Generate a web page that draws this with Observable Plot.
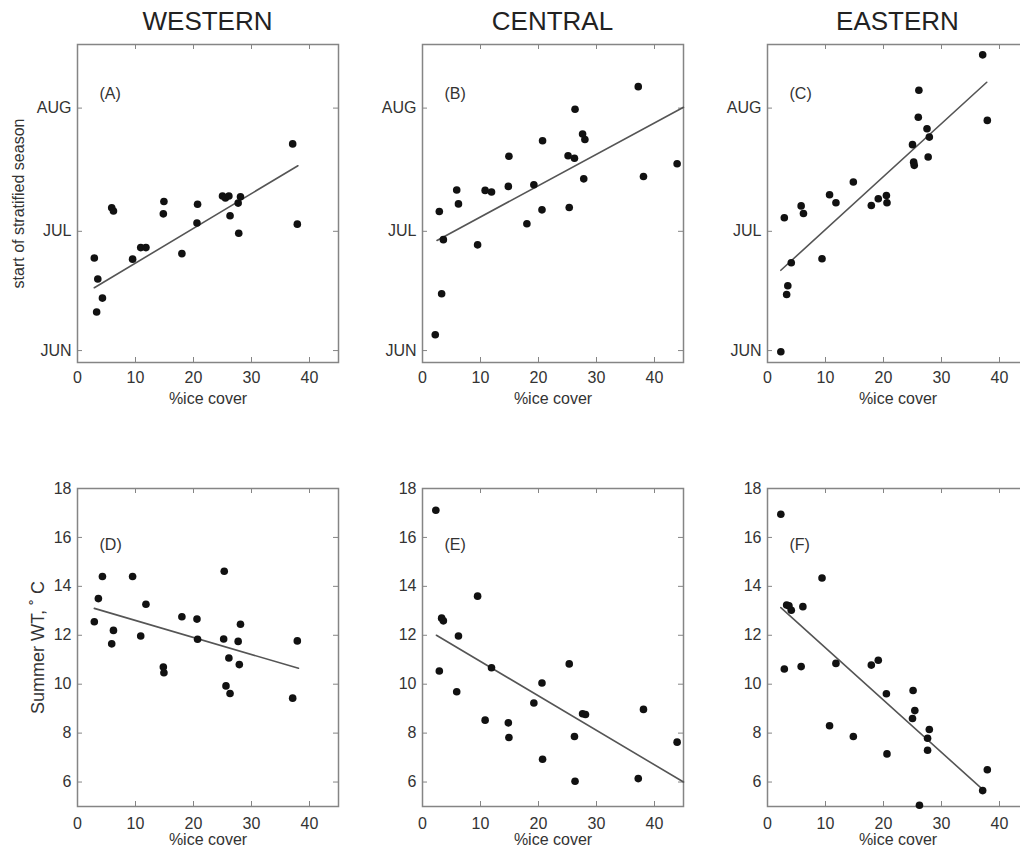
<!DOCTYPE html>
<html>
<head>
<meta charset="utf-8">
<script src="https://cdn.jsdelivr.net/npm/d3@7"></script>
<script src="https://cdn.jsdelivr.net/npm/@observablehq/plot@0.6"></script>
<style>
  html, body { margin: 0; padding: 0; background: #fff; }
  #fig { position: relative; width: 1020px; height: 850px; overflow: hidden; background: #fff;
         font-family: "Liberation Sans", Arial, sans-serif; }
  .panel { position: absolute; width: 345px; }
  .panel svg { max-width: none !important; }
  .title { position: absolute; top: 8px; width: 300px; text-align: center; font-size: 26px;
           line-height: 26px; color: #222; }
</style>
</head>
<body>
<div id="fig"></div>
<script>
// ---------- data ----------
const regions = ["WESTERN", "CENTRAL", "EASTERN"];
const topLetters = ["(A)", "(B)", "(C)"];
const bottomLetters = ["(D)", "(E)", "(F)"];

const xTicks = [0, 10, 20, 30, 40];
// start of stratified season: days after 1 June
const monthTicks = [0, 30, 61];
const monthLabels = ["JUN", "JUL", "AUG"];
const tempTicks = [6, 8, 10, 12, 14, 16, 18];

const xA = [2.9,3.5,4.3,3.3,5.9,6.2,9.5,10.9,11.8,14.9,14.8,18.0,20.7,20.6,25.0,25.5,26.1,26.3,27.7,28.1,27.8,37.1,37.9];
const yA = [23.3,18.0,13.2,9.7,35.9,35.1,23.0,25.9,25.9,37.5,34.4,24.4,36.8,32.1,38.9,38.4,38.9,33.9,37.1,38.7,29.5,52.0,31.8];

const xB = [2.2,3.3,2.9,3.6,5.9,6.2,9.5,10.8,11.9,14.8,14.9,18.0,19.2,20.7,20.6,25.1,25.3,26.2,26.3,27.6,28.0,27.8,37.2,38.1,43.9];
const yB = [4.0,14.3,35.0,27.9,40.4,36.9,26.6,40.3,39.9,41.3,48.9,31.9,41.7,52.8,35.4,49.0,36.0,48.4,60.7,54.5,53.1,43.2,66.4,43.8,47.0];

const xC = [2.3,2.9,3.5,3.3,4.1,5.8,6.2,9.4,10.7,11.8,14.8,17.9,19.1,20.5,20.6,25.0,25.2,25.3,26.1,26.0,27.5,27.9,27.7,37.1,37.9];
const yC = [-0.3,33.4,16.3,14.1,22.1,36.4,34.5,23.1,39.2,37.2,42.4,36.5,38.2,39.0,37.2,51.8,47.4,46.6,65.5,58.7,55.8,53.7,48.7,74.4,57.9];

const xD = [2.9,3.6,4.3,6.2,5.9,9.5,10.9,11.8,18.0,20.6,20.7,14.8,14.9,25.2,25.3,25.6,26.1,26.3,27.7,27.9,28.1,37.1,37.9];
const yD = [12.55,13.5,14.4,12.2,11.65,14.4,11.97,13.27,12.76,12.66,11.84,10.7,10.47,11.85,14.62,9.93,11.07,9.62,11.75,10.8,12.45,9.43,11.77];

const xE = [2.3,3.3,3.6,2.9,6.2,5.9,9.5,10.8,11.9,14.8,14.9,19.2,20.6,20.7,25.3,26.2,26.3,27.6,28.1,37.2,38.1,43.9];
const yE = [17.11,12.7,12.59,10.54,11.97,9.69,13.6,8.53,10.67,8.42,7.82,9.23,10.05,6.93,10.83,7.86,6.03,8.79,8.76,6.14,8.97,7.63];

const xF = [2.3,3.3,3.7,4.1,6.1,2.9,5.8,9.4,10.7,11.8,14.8,17.9,19.1,20.5,20.6,25.1,25.4,25.0,27.6,27.9,27.6,26.2,37.1,37.9];
const yF = [16.95,13.24,13.2,13.02,13.17,10.62,10.72,14.34,8.3,10.85,7.86,10.78,10.98,9.61,7.15,9.74,8.92,8.6,7.79,8.15,7.3,5.05,5.65,6.5];

// fitted regression lines (end points)
const fitXA = [2.9, 38.0], fitYA = [15.8, 46.5];
const fitXB = [2.5, 45.0], fitYB = [27.7, 61.2];
const fitXC = [2.3, 37.8], fitYC = [20.2, 67.5];
const fitXD = [2.9, 38.1], fitYD = [13.1, 10.65];
const fitXE = [2.4, 45.0], fitYE = [12.0, 6.0];
const fitXF = [2.3, 36.8], fitYF = [13.13, 5.76];

// ---------- drawing ----------
const zip = (xs, ys) => xs.map((x, i) => ({x, y: ys[i]}));
const fig = document.getElementById("fig");
const FONT = "'Liberation Sans', Arial, sans-serif";
const FRAME = "#858585";
const PW = 345, ML = 77, MR = 7, BOXW = PW - ML - MR, BOXH = 318;

function panel({left, top, mt, mb, yDomain, yTicks, yFmt, pts, fit, letter, letterDy, ylabel, ylabelDx, ylabelSize, xTickPad, xlabelDy}) {
  const marks = [
    Plot.frame({stroke: FRAME, strokeWidth: 1.5}),
    Plot.ruleX(xTicks, {x: d => d, insetTop: BOXH - 5, stroke: FRAME, strokeWidth: 1}),
    Plot.ruleX(xTicks, {x: d => d, insetBottom: BOXH - 5, stroke: FRAME, strokeWidth: 1}),
    Plot.ruleY(yTicks, {y: d => d, insetRight: BOXW - 5, stroke: FRAME, strokeWidth: 1}),
    Plot.ruleY(yTicks, {y: d => d, insetLeft: BOXW - 5, stroke: FRAME, strokeWidth: 1}),
    Plot.axisX({ticks: xTicks, tickSize: 0, tickPadding: xTickPad, label: null, fontSize: 16, fill: "#333"}),
    Plot.axisY({ticks: yTicks, tickSize: 0, tickPadding: 6, tickFormat: yFmt, label: null, fontSize: 16, fill: "#333"}),
    Plot.text(["%ice cover"], {frameAnchor: "bottom", dy: xlabelDy, fontSize: 16, fill: "#333"}),
    Plot.line(fit, {x: "x", y: "y", stroke: "#555", strokeWidth: 1.6}),
    Plot.dot(pts, {x: "x", y: "y", r: 3.8, fill: "#111", stroke: "none"}),
    Plot.text([letter], {frameAnchor: "top-left", dx: 22, dy: letterDy, textAnchor: "start", fontSize: 16, fill: "#333"})
  ];
  if (ylabel) marks.push(Plot.text([ylabel], {frameAnchor: "left", dx: ylabelDx, rotate: -90, textAnchor: "middle", fontSize: ylabelSize, fill: "#333"}));
  const svg = Plot.plot({
    width: PW, height: mt + BOXH + mb,
    marginLeft: ML, marginRight: MR, marginTop: mt, marginBottom: mb,
    x: {domain: [0, 45]},
    y: {domain: yDomain},
    style: {fontFamily: FONT, fontSize: "16px", background: "transparent", overflow: "visible", maxWidth: "none"},
    marks
  });
  const wrap = document.createElement("div");
  wrap.className = "panel";
  wrap.style.left = left + "px";
  wrap.style.top = top + "px";
  wrap.appendChild(svg);
  fig.appendChild(wrap);
}

const monthFmt = d => monthLabels[monthTicks.indexOf(d)];
const topData = [[xA, yA, fitXA, fitYA], [xB, yB, fitXB, fitYB], [xC, yC, fitXC, fitYC]];
const botData = [[xD, yD, fitXD, fitYD], [xE, yE, fitXE, fitYE], [xF, yF, fitXF, fitYF]];

regions.forEach((name, i) => {
  const t = document.createElement("div");
  t.className = "title";
  t.textContent = name;
  t.style.left = (i * PW + ML + BOXW / 2 - 150) + "px";
  fig.appendChild(t);

  const [tx, ty, fx, fy] = topData[i];
  panel({
    left: i * PW, top: 0, mt: 44, mb: 50,
    yDomain: [-3, 77], yTicks: monthTicks, yFmt: monthFmt,
    pts: zip(tx, ty), fit: zip(fx, fy),
    letter: topLetters[i], letterDy: 43,
    ylabel: i === 0 ? "start of stratified season" : null, ylabelDx: -59, ylabelSize: 16,
    xTickPad: 9, xlabelDy: 41
  });
  const [bx, by, gx, gy] = botData[i];
  panel({
    left: i * PW, top: 430, mt: 58, mb: 44,
    yDomain: [5, 18], yTicks: tempTicks, yFmt: d => d,
    pts: zip(bx, by), fit: zip(gx, gy),
    letter: bottomLetters[i], letterDy: 50,
    ylabel: i === 0 ? "Summer WT, \u02DA C" : null, ylabelDx: -39, ylabelSize: 18,
    xTickPad: 11, xlabelDy: 38
  });
});
</script>
</body>
</html>
